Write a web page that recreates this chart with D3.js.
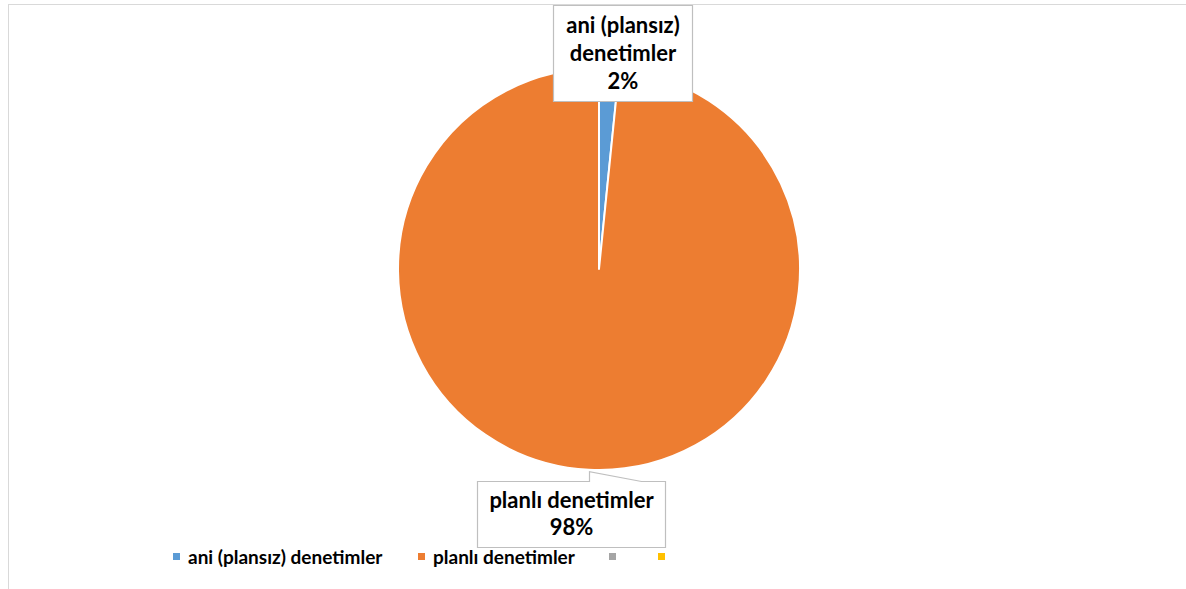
<!DOCTYPE html>
<html>
<head>
<meta charset="utf-8">
<script src="https://cdn.jsdelivr.net/npm/d3@7"></script>
<style>
  html, body { margin: 0; padding: 0; background: #fff; }
  svg { display: block; font-family: Lato, "Open Sans", sans-serif; }
</style>
</head>
<body>
<svg id="chart" width="1186" height="589"></svg>
<script>
// Denetim türlerinin dağılımı (yüzde)
const categories = ["ani (plansız) denetimler", "planlı denetimler", "", ""];
const shares = [1.6, 98.4, 0, 0];
const colors = ["#5B9BD5", "#ED7D31", "#A5A5A5", "#FFC000"];

const svg = d3.select("#chart");
const W = 1186, H = 589;

// chart area frame (runs off the right and bottom edges)
svg.append("rect")
  .attr("x", 8.5).attr("y", 4.5)
  .attr("width", W + 20).attr("height", H + 20)
  .attr("fill", "#fff").attr("stroke", "#D9D9D9").attr("stroke-width", 1);

const cx = 599, cy = 269, R = 201;

const data = categories.map((c, i) => ({ name: c, value: shares[i], color: colors[i] }));

const pie = d3.pie().sort(null).value(d => d.value);
const arcs = pie(data);
const arc = d3.arc().innerRadius(0).outerRadius(R);

const g = svg.append("g").attr("transform", `translate(${cx},${cy})`);
g.selectAll("path")
  .data(arcs.filter(a => a.data.value > 0))
  .join("path")
  .attr("d", arc)
  .attr("fill", d => d.data.color)
  .attr("stroke", "#fff")
  .attr("stroke-width", 2)
  .attr("stroke-linejoin", "round");

// data labels in callout boxes
const fmt = v => Math.round(v) + "%";
const labelFont = 22;

function outerPoint(a) {
  const m = (a.startAngle + a.endAngle) / 2;
  return [cx + Math.sin(m) * R, cy - Math.cos(m) * R];
}

const labelSpecs = [
  { arc: arcs[0], lines: ["ani (plansız)", "denetimler", fmt(shares[0])], box: { x: 553.5, y: 5.5, w: 139, h: 96 }, lineH: 28, pointer: false },
  { arc: arcs[1], lines: ["planlı denetimler", fmt(shares[1])], box: { x: 477.5, y: 481.5, w: 188, h: 66 }, lineH: 27, pointer: true }
];

labelSpecs.forEach(s => {
  const b = s.box;
  let d;
  if (s.pointer) {
    const [tx, ty] = outerPoint(s.arc);
    const px = Math.round(tx) + 0.5;
    d = `M${b.x},${b.y} L${px},${b.y} L${px},${ty + 2} L${px + 52},${b.y} L${b.x + b.w},${b.y} L${b.x + b.w},${b.y + b.h} L${b.x},${b.y + b.h} Z`;
  } else {
    d = `M${b.x},${b.y} H${b.x + b.w} V${b.y + b.h} H${b.x} Z`;
  }
  svg.append("path").attr("d", d)
    .attr("fill", "#fff").attr("stroke", "#BFBFBF").attr("stroke-width", 1.2);

  const t = svg.append("text")
    .attr("text-anchor", "middle")
    .attr("font-size", labelFont)
    .attr("font-weight", "bold")
    .attr("fill", "#000");
  const totalH = s.lines.length * s.lineH;
  const top = b.y + (b.h - totalH) / 2;
  s.lines.forEach((ln, i) => {
    t.append("tspan")
      .attr("x", b.x + b.w / 2)
      .attr("y", top + i * s.lineH + s.lineH * 0.76)
      .text(ln);
  });
});

// legend
const legendY = 557;
const legendX = [173, 418, 609, 658];
const lg = svg.append("g");
data.forEach((d, i) => {
  lg.append("rect")
    .attr("x", legendX[i]).attr("y", legendY - 4)
    .attr("width", 7).attr("height", 7)
    .attr("fill", d.color);
  if (d.name) {
    lg.append("text")
      .attr("x", legendX[i] + 15).attr("y", legendY + 6.5)
      .attr("font-size", 19)
      .attr("font-weight", "bold")
      .attr("fill", "#000")
      .text(d.name);
  }
});
</script>
</body>
</html>
